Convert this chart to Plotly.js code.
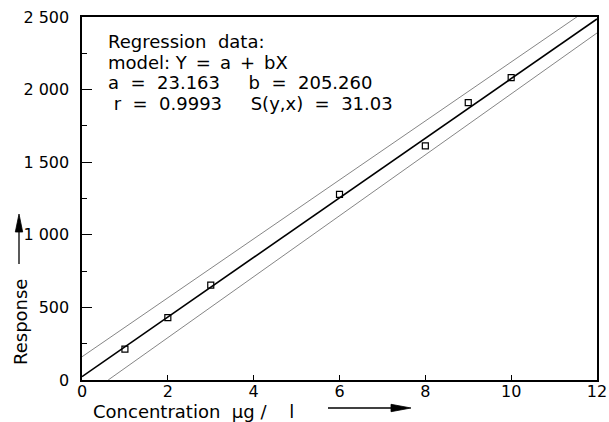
<!DOCTYPE html>
<html>
<head>
<meta charset="utf-8">
<script src="https://cdn.plot.ly/plotly-3.0.1.min.js"></script>
<style>html,body{margin:0;padding:0;background:#fff;}#chart{width:609px;height:422px;}</style>
</head>
<body>
<div id="chart"></div>
<script>
// Measured calibration points
var concX = [1, 2, 3, 6, 8, 9, 10];
var responseY = [213, 429, 654, 1279, 1612, 1910, 2082];

// Regression line (Y = a + bX) end points
var fitX = [0, 12];
var fitY = [23, 2486];

// Confidence band lines
var upperX = [0, 6, 12];
var upperY = [160, 1378, 2596];
var lowerX = [0.61, 6, 12];
var lowerY = [0, 1129, 2390];

// Axis ticks
var xTickVals = [0, 2, 4, 6, 8, 10, 12];
var xTickText = ["0", "2", "4", "6", "8", "10", "12"];
var yTickVals = [0, 500, 1000, 1500, 2000, 2500];
var yTickText = ["0", "500", "1 000", "1 500", "2 000", "2 500"];

// Regression text lines
function sp(n) { return new Array(n + 1).join('\u00a0'); }
var EN = '\u2002';
var infoLines = [
  "Regression" + sp(2) + "data:",
  "model:" + sp(1) + "Y" + EN + "=" + EN + "a" + EN + "+" + EN + "bX",
  "a" + sp(2) + "=" + sp(2) + "23.163" + sp(5) + "b" + sp(2) + "=" + sp(2) + "205.260",
  sp(1) + "r" + sp(2) + "=" + sp(2) + "0.9993" + sp(5) + "S(y,x)" + sp(2) + "=" + sp(2) + "31.03"
];

var FONT = "DejaVu Sans, Arial, sans-serif";

var traces = [
  {x: upperX, y: upperY, mode: 'lines', line: {color: '#666', width: 0.8}, hoverinfo: 'skip', showlegend: false},
  {x: lowerX, y: lowerY, mode: 'lines', line: {color: '#666', width: 0.8}, hoverinfo: 'skip', showlegend: false},
  {x: fitX, y: fitY, mode: 'lines', line: {color: '#000', width: 1.6}, showlegend: false},
  {x: concX, y: responseY, mode: 'markers', marker: {symbol: 'square-open', size: 6, color: '#000', line: {width: 1.2, color: '#000'}}, showlegend: false}
];

var plotL = 82, plotR = 597, plotT = 17, plotB = 380;
var W = plotR - plotL, H = plotB - plotT;
function px(xp) { return (xp - plotL) / W; }
function py(yp) { return (plotB - yp) / H; }

var annotations = [];
var lineCenters = [41, 62, 83, 104];
infoLines.forEach(function (t, i) {
  annotations.push({
    xref: 'paper', yref: 'paper', x: px(107), y: py(lineCenters[i]),
    xanchor: 'left', yanchor: 'middle', text: t, showarrow: false, borderpad: 0,
    font: {family: FONT, size: 18, color: '#000'}
  });
});
// y-axis title
annotations.push({
  xref: 'paper', yref: 'paper', x: px(20), y: py(322), text: 'Response',
  textangle: -90, showarrow: false, xanchor: 'center', yanchor: 'middle',
  font: {family: FONT, size: 18, color: '#000'}
});
// x-axis title
annotations.push({
  xref: 'paper', yref: 'paper', x: px(91), y: py(411), text: 'Concentration\u00a0\u00a0\u03bcg\u00a0/\u00a0\u00a0\u00a0\u00a0l',
  showarrow: false, xanchor: 'left', yanchor: 'middle',
  font: {family: FONT, size: 18, color: '#000'}
});

// arrows drawn as shapes in paper coordinates
function P(xp, yp) { return px(xp).toFixed(5) + ',' + py(yp).toFixed(5); }
var shapes = [
  {type: 'line', xref: 'paper', yref: 'paper', x0: px(19), y0: py(264), x1: px(19), y1: py(228), line: {color: '#000', width: 1.3}},
  {type: 'path', xref: 'paper', yref: 'paper', path: 'M' + P(19, 214) + ' L' + P(15.3, 232) + ' L' + P(22.7, 232) + ' Z', fillcolor: '#000', line: {color: '#000', width: 0.8}},
  {type: 'line', xref: 'paper', yref: 'paper', x0: px(328), y0: py(408), x1: px(395), y1: py(408), line: {color: '#000', width: 1.3}},
  {type: 'path', xref: 'paper', yref: 'paper', path: 'M' + P(411, 408) + ' L' + P(391, 404.3) + ' L' + P(391, 411.7) + ' Z', fillcolor: '#000', line: {color: '#000', width: 0.8}}
];

var layout = {
  width: 609, height: 422,
  margin: {l: plotL, r: 609 - plotR, t: plotT, b: 422 - plotB},
  paper_bgcolor: '#fff', plot_bgcolor: '#fff',
  font: {family: FONT, color: '#000', size: 16},
  xaxis: {
    range: [0, 12], tickvals: xTickVals, ticktext: xTickText,
    ticks: 'inside', ticklen: 5, tickwidth: 1.2, tickcolor: '#000',
    showline: true, linecolor: '#000', linewidth: 1.6, mirror: true,
    showgrid: false, zeroline: false, ticklabelstandoff: -4,
    tickfont: {family: FONT, size: 16, color: '#000'}
  },
  yaxis: {
    range: [0, 2500], tickvals: yTickVals, ticktext: yTickText,
    ticks: 'inside', ticklen: 10, tickwidth: 1.2, tickcolor: '#000',
    minor: {dtick: 250, ticks: 'inside', ticklen: 5, tickwidth: 1, tickcolor: '#000', showgrid: false},
    showline: true, linecolor: '#000', linewidth: 1.6, mirror: true,
    showgrid: false, zeroline: false, ticklabelstandoff: 8,
    tickfont: {family: FONT, size: 16, color: '#000'}
  },
  annotations: annotations,
  shapes: shapes,
  showlegend: false
};

Plotly.newPlot('chart', traces, layout, {staticPlot: true, displayModeBar: false});
</script>
</body>
</html>
